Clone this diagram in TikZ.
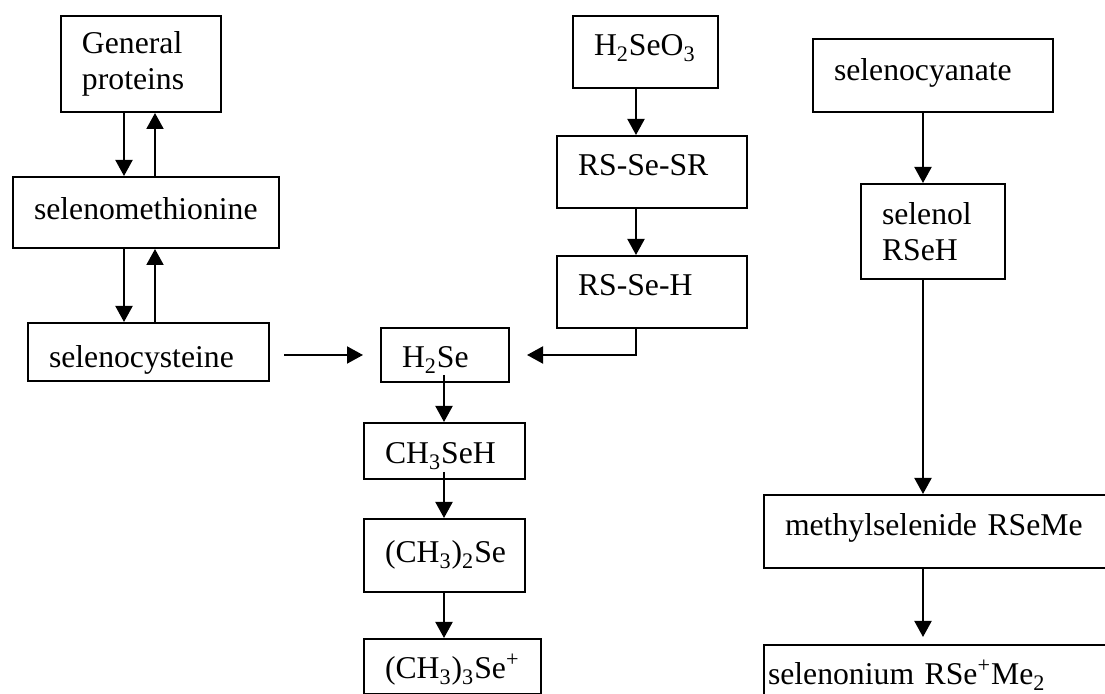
\documentclass[tikz,border=0pt]{standalone}
\usepackage{fontspec}
\setmainfont{Liberation Serif}
\usetikzlibrary{arrows.meta}
\hyphenpenalty=10000
\exhyphenpenalty=10000

\begin{document}
\begin{tikzpicture}[x=0.5pt, y=-0.5pt,
    box/.style={draw, line width=1pt, anchor=north west, inner xsep=10.5pt,
      inner ysep=0pt, align=left, font=\fontsize{15.85}{18.25}\selectfont},
    lift/.style={text height=11pt, text depth=#1},
    drop/.style={text height=#1, text depth=0pt},
    arr/.style={line width=1pt, -{Triangle[width=8.5pt,length=8pt]}}]
  \useasboundingbox (0,0) rectangle (1105,694);
  \clip (0,0) rectangle (1105,694);

  % 1. proteins and amino acids
  \node[box, text width=59pt, minimum height=48pt] (gp) at (60,15) {General\\proteins};
  \node[box, lift=3.5pt, text width=112pt, minimum height=35.5pt] (selmet) at (12,176) {selenomethionine};
  \node[box, drop=16pt, text width=99.5pt, minimum height=29pt] (selcys) at (27,322) {selenocysteine};

  % 2. selenite branch
  \node[box, lift=7pt, text width=51.5pt, minimum height=36pt] (h2seo3) at (572,15) {H\textsubscript{2}SeO\textsubscript{3}};
  \node[box, lift=7pt, text width=74pt, minimum height=36pt] (rsser) at (556,135) {RS-Se-SR};
  \node[box, lift=7pt, text width=74pt, minimum height=36pt] (rsseh) at (556,255) {RS-Se-H};

  % 3. selenide and methylation
  \node[box, drop=13pt, text width=43pt, minimum height=27pt] (h2se) at (380,327) {H\textsubscript{2}Se};
  \node[box, drop=13pt, text width=59.5pt, minimum height=28pt] (ch3seh) at (363,422) {CH\textsubscript{3}SeH};
  \node[box, lift=3.5pt, text width=59.5pt, minimum height=36.5pt] (dimeth) at (363,518) {(CH\textsubscript{3})\textsubscript{2}Se};
  \node[box, drop=12.5pt, text width=67.5pt, minimum height=27.5pt] (trimeth) at (363,638) {(CH\textsubscript{3})\textsubscript{3}Se\textsuperscript{+}};

  % 4. selenocyanate branch
  \node[box, lift=5.5pt, text width=99pt, minimum height=36.5pt] (selcyan) at (812,38) {selenocyanate};
  \node[box, text width=51pt, minimum height=47.5pt] (selenol) at (860,183) {selenol\\RSeH};
  \node[box, lift=6.5pt, text width=154pt, minimum height=36.5pt] (meth) at (763,494) {methylselenide RSeMe};
  \node[box, lift=1pt, inner xsep=2pt, text width=171pt, minimum height=30pt] (selenon) at (763,644) {selenonium RSe\textsuperscript{+}Me\textsubscript{2}};

  % 5. arrow columns
  \coordinate (cdn) at (124,0);
  \coordinate (cup) at (155,0);
  \coordinate (cmid) at (444,0);
  \coordinate (crs) at (636,0);
  \coordinate (cright) at (923,0);

  \draw[arr] (cdn |- gp.south) -- (cdn |- selmet.north);
  \draw[arr] (cup |- selmet.north) -- (cup |- gp.south);
  \draw[arr] (cdn |- selmet.south) -- (cdn |- selcys.north);
  \draw[arr] (cup |- selcys.north) -- (cup |- selmet.south);
  \draw[arr] ([xshift=7pt]selcys.east |- h2se.west) -- ([xshift=-8.5pt]h2se.west);

  \draw[arr] (crs |- h2seo3.south) -- (crs |- rsser.north);
  \draw[arr] (crs |- rsser.south) -- (crs |- rsseh.north);
  \draw[arr] (crs |- rsseh.south) |- ([xshift=8.5pt]h2se.east);

  \draw[arr] ([yshift=4pt]cmid |- h2se.south) -- (cmid |- ch3seh.north);
  \draw[arr] ([yshift=4pt]cmid |- ch3seh.south) -- (cmid |- dimeth.north);
  \draw[arr] (cmid |- dimeth.south) -- (cmid |- trimeth.north);

  \draw[arr] (cright |- selcyan.south) -- (cright |- selenol.north);
  \draw[arr] (cright |- selenol.south) -- (cright |- meth.north);
  \draw[arr] (cright |- meth.south) -- ([yshift=3.5pt]cright |- selenon.north);
\end{tikzpicture}
\end{document}
